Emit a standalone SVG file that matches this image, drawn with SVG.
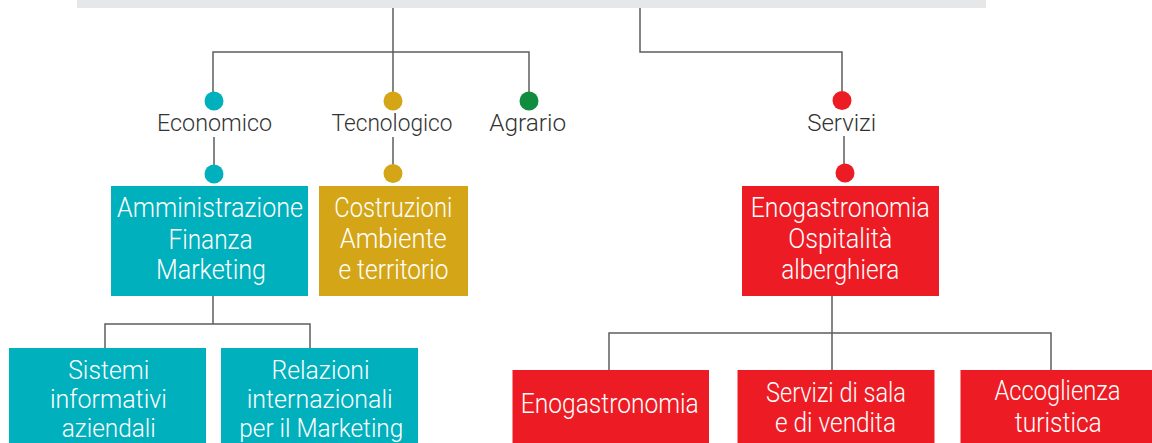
<svg xmlns="http://www.w3.org/2000/svg" width="1152" height="443" viewBox="0 0 1152 443">
<style>
.ln{fill:none;stroke:#5e5e5e;stroke-width:1.5}
.lbl{font-family:Roboto,"Liberation Sans",Arial,sans-serif;font-weight:300;font-size:24px;fill:#333333;text-anchor:middle}
.bt{font-family:Roboto,"Liberation Sans",Arial,sans-serif;font-weight:300;font-size:27.5px;fill:#ffffff;text-anchor:middle}
.bs{font-size:25.5px}
.teal{fill:#00b0bd}
.gold{fill:#d4a617}
.green{fill:#0f8c3e}
.red{fill:#ed1c24}
</style>
<rect id="top-bar" x="77" y="0" width="909" height="8" fill="#e6e7e8"/>
<g id="connectors">
<path class="ln" d="M393 8V52M213 101V52H529V101M393 52V101"/>
<path class="ln" d="M640 8V52H842V100"/>
<path class="ln" d="M214 137V174M393 137V173M844 136V173"/>
<path class="ln" d="M213 296V324M105 348V324H310V348"/>
<path class="ln" d="M832 296V370M609 370V333H1051V370"/>
</g>
<g id="economico">
<circle class="teal" cx="214" cy="101" r="9.5"/>
<text class="lbl" x="214.5" y="131" textLength="115" lengthAdjust="spacingAndGlyphs">Economico</text>
</g>
<g id="tecnologico">
<circle class="gold" cx="393" cy="101" r="9.5"/>
<text class="lbl" x="392" y="131" textLength="121" lengthAdjust="spacingAndGlyphs">Tecnologico</text>
</g>
<g id="agrario">
<circle class="green" cx="529" cy="101" r="9.5"/>
<text class="lbl" x="527.7" y="131" textLength="77" lengthAdjust="spacingAndGlyphs">Agrario</text>
</g>
<g id="servizi">
<circle class="red" cx="842" cy="100.5" r="9.5"/>
<text class="lbl" x="841.7" y="130.5" textLength="69" lengthAdjust="spacingAndGlyphs">Servizi</text>
</g>
<g id="amministrazione">
<circle class="teal" cx="214" cy="174" r="9.5"/>
<rect class="teal" x="111" y="186" width="197" height="110"/>
<text class="bt" x="210" y="216.7" textLength="186" lengthAdjust="spacingAndGlyphs">Amministrazione</text>
<text class="bt" x="210.5" y="248.5" textLength="84" lengthAdjust="spacingAndGlyphs">Finanza</text>
<text class="bt" x="211" y="279" textLength="110" lengthAdjust="spacingAndGlyphs">Marketing</text>
</g>
<g id="costruzioni">
<circle class="gold" cx="393" cy="173.5" r="9.5"/>
<rect class="gold" x="319" y="186" width="149" height="110"/>
<text class="bt" x="393.3" y="216.7" textLength="118" lengthAdjust="spacingAndGlyphs">Costruzioni</text>
<text class="bt" x="393.3" y="248.3" textLength="107" lengthAdjust="spacingAndGlyphs">Ambiente</text>
<text class="bt" x="393.5" y="279" textLength="110" lengthAdjust="spacingAndGlyphs">e territorio</text>
</g>
<g id="enogastronomia-ospitalita">
<circle class="red" cx="845" cy="173" r="9.5"/>
<rect class="red" x="742" y="186" width="197" height="110"/>
<text class="bt" x="840.3" y="216.7" textLength="179" lengthAdjust="spacingAndGlyphs">Enogastronomia</text>
<text class="bt" x="840.3" y="247.7" textLength="104" lengthAdjust="spacingAndGlyphs">Ospitalità</text>
<text class="bt" x="840.2" y="279" textLength="118" lengthAdjust="spacingAndGlyphs">alberghiera</text>
</g>
<g id="sistemi-informativi">
<rect class="teal" x="9" y="348" width="197" height="100"/>
<text class="bt bs" x="108.7" y="379" textLength="81" lengthAdjust="spacingAndGlyphs">Sistemi</text>
<text class="bt bs" x="108.4" y="408.3" textLength="117" lengthAdjust="spacingAndGlyphs">informativi</text>
<text class="bt bs" x="108.8" y="437" textLength="94" lengthAdjust="spacingAndGlyphs">aziendali</text>
</g>
<g id="relazioni-internazionali">
<rect class="teal" x="221" y="348" width="197" height="100"/>
<text class="bt bs" x="320.5" y="379" textLength="98" lengthAdjust="spacingAndGlyphs">Relazioni</text>
<text class="bt bs" x="319.7" y="408.3" textLength="146" lengthAdjust="spacingAndGlyphs">internazionali</text>
<text class="bt bs" x="321.3" y="437" textLength="164" lengthAdjust="spacingAndGlyphs">per il Marketing</text>
</g>
<g id="enogastronomia">
<rect class="red" x="512.5" y="370" width="196.5" height="80"/>
<text class="bt" x="609.8" y="413.3" textLength="178" lengthAdjust="spacingAndGlyphs">Enogastronomia</text>
</g>
<g id="servizi-sala">
<rect class="red" x="737.5" y="370" width="197" height="80"/>
<text class="bt" x="836" y="401.7" textLength="140" lengthAdjust="spacingAndGlyphs">Servizi di sala</text>
<text class="bt" x="835.5" y="431.7" textLength="121" lengthAdjust="spacingAndGlyphs">e di vendita</text>
</g>
<g id="accoglienza">
<rect class="red" x="960.5" y="370" width="197" height="80"/>
<text class="bt" x="1057.5" y="400" textLength="126" lengthAdjust="spacingAndGlyphs">Accoglienza</text>
<text class="bt" x="1058.3" y="431.7" textLength="87" lengthAdjust="spacingAndGlyphs">turistica</text>
</g>
</svg>
